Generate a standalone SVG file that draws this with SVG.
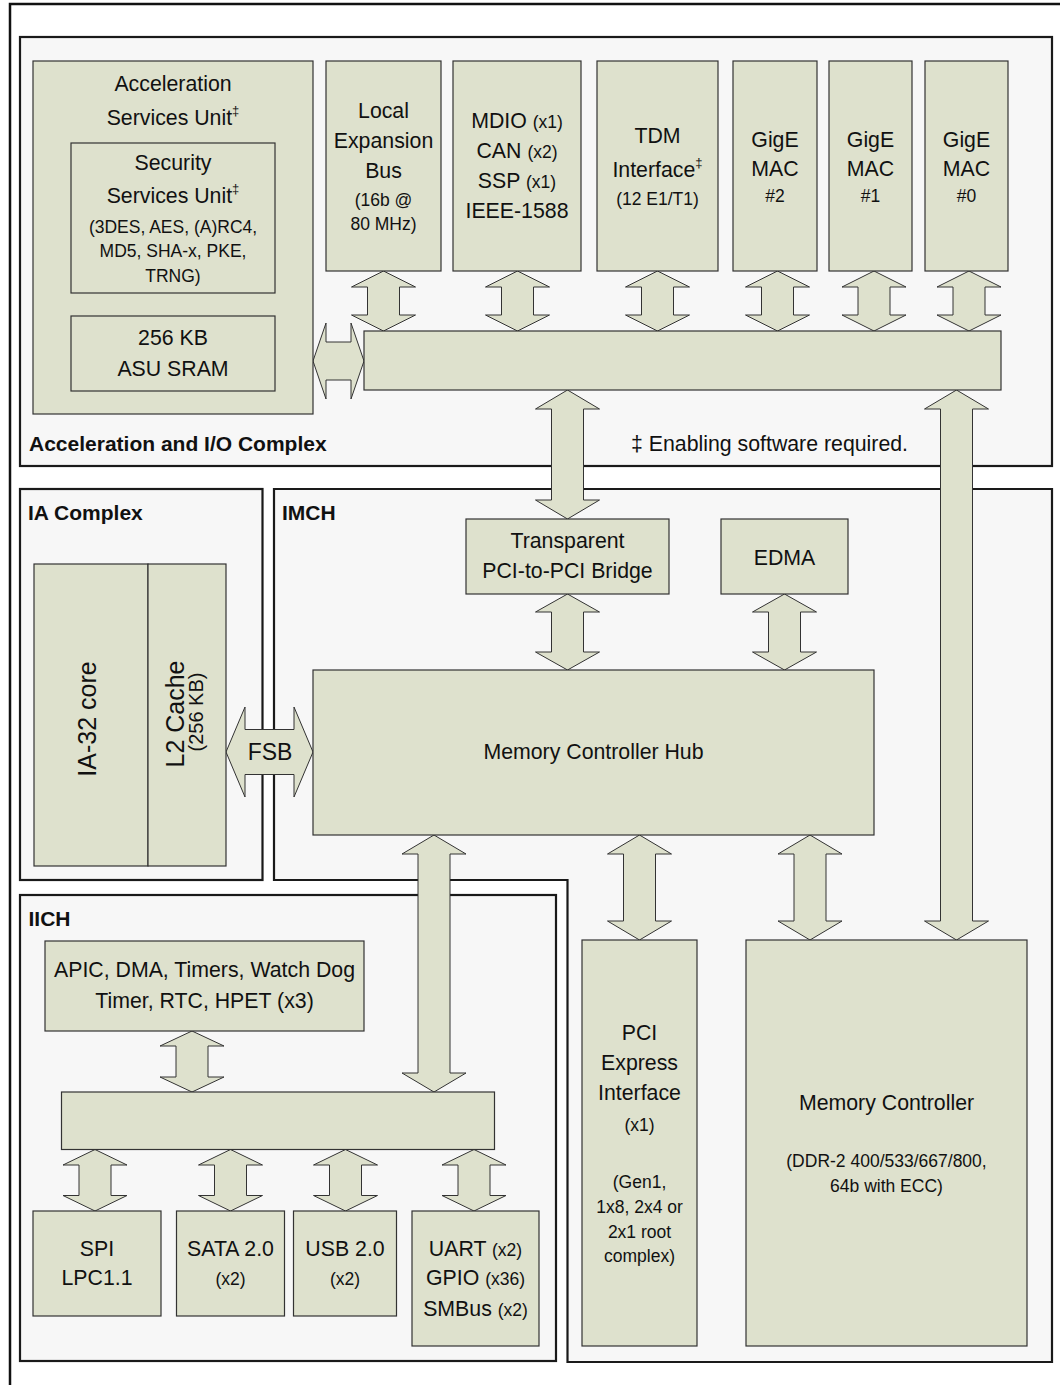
<svg xmlns="http://www.w3.org/2000/svg" width="1060" height="1385" viewBox="0 0 1060 1385">
<style>
.frame{fill:#ffffff;stroke:#111;stroke-width:2.5}
.panel{fill:#f7f7f7;stroke:#1a1a1a;stroke-width:2.2}
.blk{fill:#dee1cd;stroke:#333;stroke-width:1.2}
.arr{fill:#dee1cd;stroke:#333;stroke-width:1}
text{font-family:"Liberation Sans",Arial,Helvetica,sans-serif;fill:#111}
.t{font-size:21.3px;text-anchor:middle}
.s{font-size:17.5px}
.lbl{font-size:21px;font-weight:bold;text-anchor:start}
.sup{font-size:13px}
</style>
<rect class="frame" x="10" y="4" width="1100" height="1500"/>

<g id="accel-io-complex">
<rect class="panel" x="20" y="37" width="1032" height="429"/>
<text class="lbl" x="29" y="451">Acceleration and I/O Complex</text>
<text class="t" x="631" y="451" style="text-anchor:start">‡ Enabling software required.</text>
</g>
<g id="ia-complex">
<rect class="panel" x="20" y="489" width="242.5" height="391"/>
<text class="lbl" x="28" y="520">IA Complex</text>
</g>
<g id="imch">
<path class="panel" d="M274 489 L1052 489 L1052 1362 L567.5 1362 L567.5 880 L274 880 Z"/>
<text class="lbl" x="282" y="520">IMCH</text>
</g>
<g id="iich">
<rect class="panel" x="20" y="895" width="536" height="466"/>
<text class="lbl" x="28.5" y="926">IICH</text>
</g>

<g id="connectors">
<path class="arr" d="M383.5 271 L415.5 287 L399.5 287 L399.5 315 L415.5 315 L383.5 331 L351.5 315 L367.5 315 L367.5 287 L351.5 287 Z"/>
<path class="arr" d="M517.5 271 L549.5 287 L533.5 287 L533.5 315 L549.5 315 L517.5 331 L485.5 315 L501.5 315 L501.5 287 L485.5 287 Z"/>
<path class="arr" d="M657.5 271 L689.5 287 L673.5 287 L673.5 315 L689.5 315 L657.5 331 L625.5 315 L641.5 315 L641.5 287 L625.5 287 Z"/>
<path class="arr" d="M777.5 271 L809.5 287 L793.5 287 L793.5 315 L809.5 315 L777.5 331 L745.5 315 L761.5 315 L761.5 287 L745.5 287 Z"/>
<path class="arr" d="M874 271 L906 287 L890 287 L890 315 L906 315 L874 331 L842 315 L858 315 L858 287 L842 287 Z"/>
<path class="arr" d="M969 271 L1001 287 L985 287 L985 315 L1001 315 L969 331 L937 315 L953 315 L953 287 L937 287 Z"/>
<path class="arr" d="M313 361 L326 323 L326 342 L351 342 L351 323 L364 361 L351 399 L351 380 L326 380 L326 399 Z"/>
<path class="arr" d="M567.5 390 L599.5 409 L583.5 409 L583.5 500 L599.5 500 L567.5 519 L535.5 500 L551.5 500 L551.5 409 L535.5 409 Z"/>
<path class="arr" d="M956.5 390 L988.5 409 L972.5 409 L972.5 921 L988.5 921 L956.5 940 L924.5 921 L940.5 921 L940.5 409 L924.5 409 Z"/>
<path class="arr" d="M567.5 594 L599.5 612 L583.5 612 L583.5 652 L599.5 652 L567.5 670 L535.5 652 L551.5 652 L551.5 612 L535.5 612 Z"/>
<path class="arr" d="M784.5 594 L816.5 612 L800.5 612 L800.5 652 L816.5 652 L784.5 670 L752.5 652 L768.5 652 L768.5 612 L752.5 612 Z"/>
<path class="arr" d="M226 752 L245 707 L245 729.5 L294 729.5 L294 707 L313 752 L294 797 L294 774.5 L245 774.5 L245 797 Z"/>
<text class="t" x="270" y="760" style="font-size:23px">FSB</text>
<path class="arr" d="M434 835 L466 854 L450 854 L450 1073 L466 1073 L434 1092 L402 1073 L418 1073 L418 854 L402 854 Z"/>
<path class="arr" d="M639.5 835 L671.5 854 L655.5 854 L655.5 921 L671.5 921 L639.5 940 L607.5 921 L623.5 921 L623.5 854 L607.5 854 Z"/>
<path class="arr" d="M810 835 L842 854 L826 854 L826 921 L842 921 L810 940 L778 921 L794 921 L794 854 L778 854 Z"/>
<path class="arr" d="M192 1031 L224 1046 L208 1046 L208 1077 L224 1077 L192 1092 L160 1077 L176 1077 L176 1046 L160 1046 Z"/>
<path class="arr" d="M95 1149.5 L127 1165 L111 1165 L111 1195.5 L127 1195.5 L95 1211 L63 1195.5 L79 1195.5 L79 1165 L63 1165 Z"/>
<path class="arr" d="M230.5 1149.5 L262.5 1165 L246.5 1165 L246.5 1195.5 L262.5 1195.5 L230.5 1211 L198.5 1195.5 L214.5 1195.5 L214.5 1165 L198.5 1165 Z"/>
<path class="arr" d="M345.5 1149.5 L377.5 1165 L361.5 1165 L361.5 1195.5 L377.5 1195.5 L345.5 1211 L313.5 1195.5 L329.5 1195.5 L329.5 1165 L313.5 1165 Z"/>
<path class="arr" d="M474 1149.5 L506 1165 L490 1165 L490 1195.5 L506 1195.5 L474 1211 L442 1195.5 L458 1195.5 L458 1165 L442 1165 Z"/>
</g>

<g id="asu">
<rect class="blk" x="33" y="61" width="280" height="353"/>
<text class="t" x="173" y="91">Acceleration</text>
<text class="t" x="173" y="125">Services Unit<tspan class="sup" dy="-10">‡</tspan></text>
</g>
<g id="ssu">
<rect class="blk" x="71" y="143" width="204" height="150"/>
<text class="t" x="173" y="170">Security</text>
<text class="t" x="173" y="203">Services Unit<tspan class="sup" dy="-10">‡</tspan></text>
<text class="t s" x="173" y="233">(3DES, AES, (A)RC4,</text>
<text class="t s" x="173" y="257">MD5, SHA-x, PKE,</text>
<text class="t s" x="173" y="282">TRNG)</text>
</g>
<g id="asu-sram">
<rect class="blk" x="71" y="316" width="204" height="75"/>
<text class="t" x="173" y="345">256 KB</text>
<text class="t" x="173" y="376">ASU SRAM</text>
</g>
<g id="local-expansion-bus">
<rect class="blk" x="326" y="61" width="115" height="210"/>
<text class="t" x="383.5" y="118">Local</text>
<text class="t" x="383.5" y="148">Expansion</text>
<text class="t" x="383.5" y="178">Bus</text>
<text class="t s" x="383.5" y="206">(16b @</text>
<text class="t s" x="383.5" y="230">80 MHz)</text>
</g>
<g id="mdio-can-ssp">
<rect class="blk" x="453" y="61" width="128" height="210"/>
<text class="t" x="517" y="128">MDIO <tspan class="s">(x1)</tspan></text>
<text class="t" x="517" y="158">CAN <tspan class="s">(x2)</tspan></text>
<text class="t" x="517" y="188">SSP <tspan class="s">(x1)</tspan></text>
<text class="t" x="517" y="218">IEEE-1588</text>
</g>
<g id="tdm-interface">
<rect class="blk" x="597" y="61" width="121" height="210"/>
<text class="t" x="657.5" y="143">TDM</text>
<text class="t" x="657.5" y="177">Interface<tspan class="sup" dy="-10">‡</tspan></text>
<text class="t s" x="657.5" y="205">(12 E1/T1)</text>
</g>
<g id="gige-mac-2">
<rect class="blk" x="733" y="61" width="84" height="210"/>
<text class="t" x="775" y="147">GigE</text>
<text class="t" x="775" y="176">MAC</text>
<text class="t s" x="775" y="202">#2</text>
</g>
<g id="gige-mac-1">
<rect class="blk" x="829" y="61" width="83" height="210"/>
<text class="t" x="870.5" y="147">GigE</text>
<text class="t" x="870.5" y="176">MAC</text>
<text class="t s" x="870.5" y="202">#1</text>
</g>
<g id="gige-mac-0">
<rect class="blk" x="925" y="61" width="83" height="210"/>
<text class="t" x="966.5" y="147">GigE</text>
<text class="t" x="966.5" y="176">MAC</text>
<text class="t s" x="966.5" y="202">#0</text>
</g>
<g id="aioc-bus">
<rect class="blk" x="364" y="331" width="637" height="59"/>
</g>
<g id="ia32-core">
<rect class="blk" x="34" y="564" width="114" height="302"/>
<text class="t" style="font-size:25px" transform="translate(96,719) rotate(-90)">IA-32 core</text>
</g>
<g id="l2-cache">
<rect class="blk" x="148" y="564" width="78" height="302"/>
<text class="t" style="font-size:25px" transform="translate(184,714) rotate(-90)">L2 Cache</text>
<text class="t" style="font-size:20px" transform="translate(202.5,712) rotate(-90)">(256 KB)</text>
</g>
<g id="pci-bridge">
<rect class="blk" x="466" y="519" width="203" height="75"/>
<text class="t" x="567.5" y="548">Transparent</text>
<text class="t" x="567.5" y="578">PCI-to-PCI Bridge</text>
</g>
<g id="edma">
<rect class="blk" x="721" y="519" width="127" height="75"/>
<text class="t" x="784.5" y="565">EDMA</text>
</g>
<g id="memory-controller-hub">
<rect class="blk" x="313" y="670" width="561" height="165"/>
<text class="t" x="593.5" y="759">Memory Controller Hub</text>
</g>
<g id="pcie-interface">
<rect class="blk" x="582" y="940" width="115" height="406"/>
<text class="t" x="639.5" y="1040">PCI</text>
<text class="t" x="639.5" y="1070">Express</text>
<text class="t" x="639.5" y="1100">Interface</text>
<text class="t s" x="639.5" y="1131">(x1)</text>
<text class="t s" x="639.5" y="1188">(Gen1,</text>
<text class="t s" x="639.5" y="1213">1x8, 2x4 or</text>
<text class="t s" x="639.5" y="1238">2x1 root</text>
<text class="t s" x="639.5" y="1262">complex)</text>
</g>
<g id="memory-controller">
<rect class="blk" x="746" y="940" width="281" height="406"/>
<text class="t" x="886.5" y="1110">Memory Controller</text>
<text class="t s" x="886.5" y="1167">(DDR-2 400/533/667/800,</text>
<text class="t s" x="886.5" y="1192">64b with ECC)</text>
</g>
<g id="apic-timers">
<rect class="blk" x="45" y="941" width="319" height="90"/>
<text class="t" x="204.5" y="977">APIC, DMA, Timers, Watch Dog</text>
<text class="t" x="204.5" y="1008">Timer, RTC, HPET (x3)</text>
</g>
<g id="iich-bus">
<rect class="blk" x="61.5" y="1092" width="433" height="57.5"/>
</g>
<g id="spi-lpc">
<rect class="blk" x="33" y="1211" width="128" height="105"/>
<text class="t" x="97" y="1256">SPI</text>
<text class="t" x="97" y="1285">LPC1.1</text>
</g>
<g id="sata">
<rect class="blk" x="176.5" y="1211" width="108" height="105"/>
<text class="t" x="230.5" y="1256">SATA 2.0</text>
<text class="t s" x="230.5" y="1285">(x2)</text>
</g>
<g id="usb">
<rect class="blk" x="293.5" y="1211" width="103" height="105"/>
<text class="t" x="345" y="1256">USB 2.0</text>
<text class="t s" x="345" y="1285">(x2)</text>
</g>
<g id="uart-gpio-smbus">
<rect class="blk" x="412" y="1211" width="127" height="135"/>
<text class="t" x="475.5" y="1256">UART <tspan class="s">(x2)</tspan></text>
<text class="t" x="475.5" y="1285">GPIO <tspan class="s">(x36)</tspan></text>
<text class="t" x="475.5" y="1316">SMBus <tspan class="s">(x2)</tspan></text>
</g>
</svg>
